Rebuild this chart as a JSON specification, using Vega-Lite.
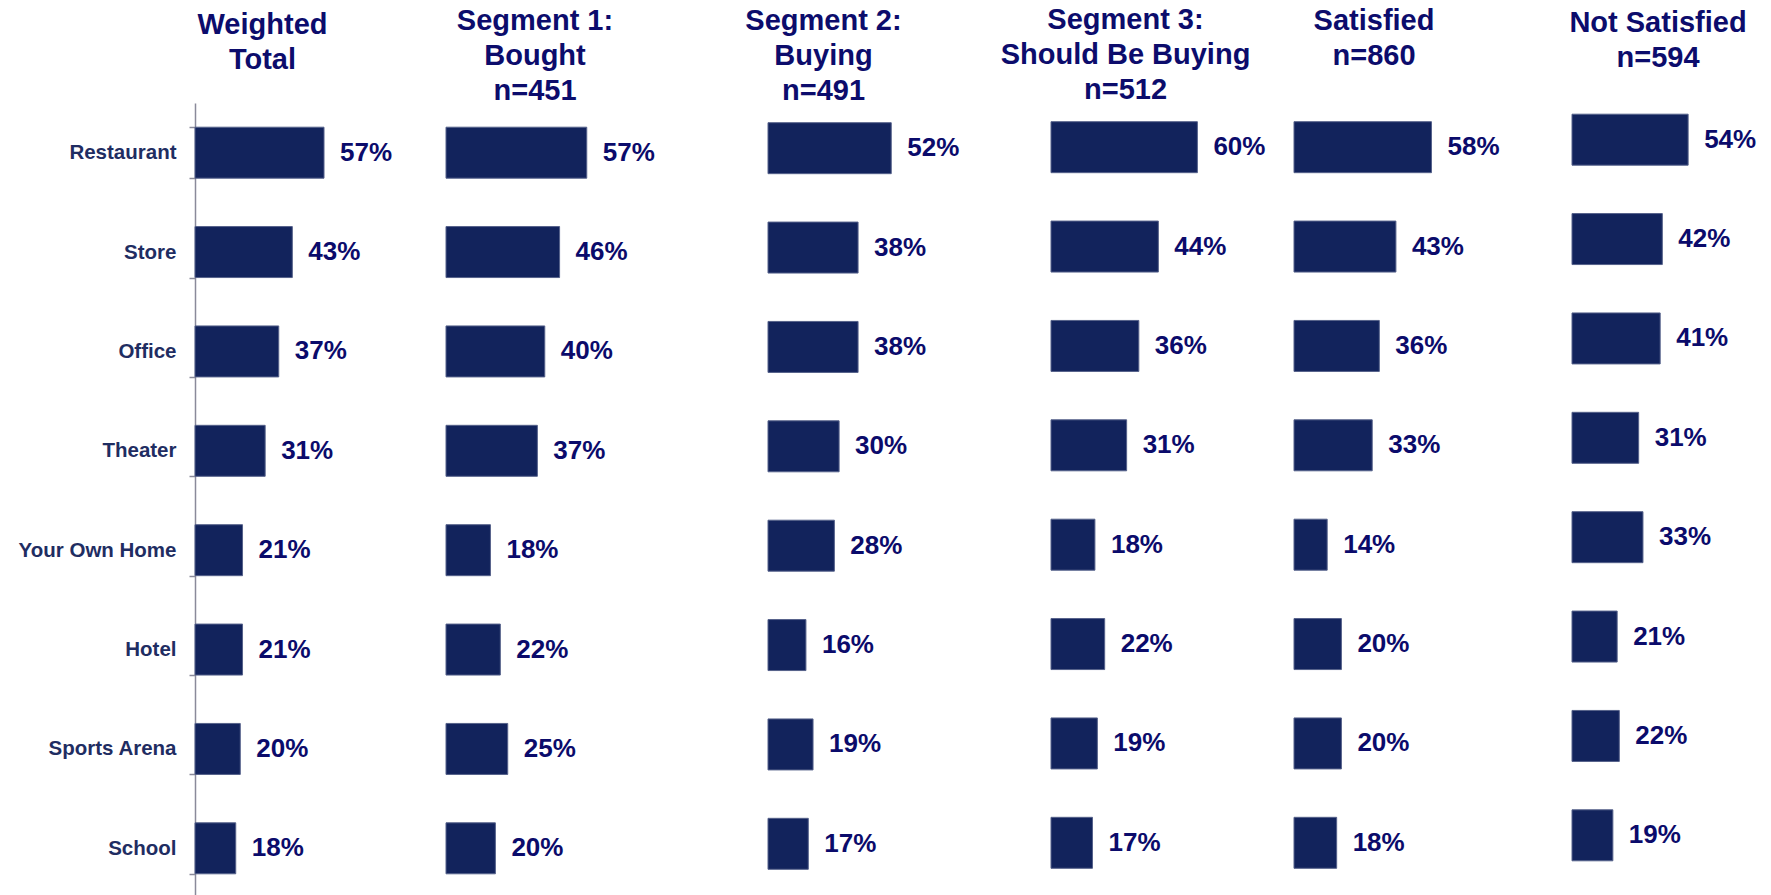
{
  "$schema": "https://vega.github.io/schema/vega-lite/v6.json",
  "padding": {"left": 18, "top": 6, "right": 0, "bottom": 0},
  "background": "white",
  "spacing": 0,
  "bounds": "flush",
  "config": {
    "view": {"stroke": null},
    "font": "Liberation Sans",
    "title": {"font": "Liberation Sans", "fontSize": 29, "fontWeight": "bold", "color": "#0C0C6C", "lineHeight": 35, "anchor": "middle", "frame": "group", "offset": -3}
  },
  "datasets": {
    "d": [
      {"segment": "W", "place": "Restaurant", "pct": 0.57},
      {"segment": "W", "place": "Store", "pct": 0.43},
      {"segment": "W", "place": "Office", "pct": 0.37},
      {"segment": "W", "place": "Theater", "pct": 0.31},
      {"segment": "W", "place": "Your Own Home", "pct": 0.21},
      {"segment": "W", "place": "Hotel", "pct": 0.21},
      {"segment": "W", "place": "Sports Arena", "pct": 0.20},
      {"segment": "W", "place": "School", "pct": 0.18},
      {"segment": "S1", "place": "Restaurant", "pct": 0.57},
      {"segment": "S1", "place": "Store", "pct": 0.46},
      {"segment": "S1", "place": "Office", "pct": 0.40},
      {"segment": "S1", "place": "Theater", "pct": 0.37},
      {"segment": "S1", "place": "Your Own Home", "pct": 0.18},
      {"segment": "S1", "place": "Hotel", "pct": 0.22},
      {"segment": "S1", "place": "Sports Arena", "pct": 0.25},
      {"segment": "S1", "place": "School", "pct": 0.20},
      {"segment": "S2", "place": "Restaurant", "pct": 0.52},
      {"segment": "S2", "place": "Store", "pct": 0.38},
      {"segment": "S2", "place": "Office", "pct": 0.38},
      {"segment": "S2", "place": "Theater", "pct": 0.30},
      {"segment": "S2", "place": "Your Own Home", "pct": 0.28},
      {"segment": "S2", "place": "Hotel", "pct": 0.16},
      {"segment": "S2", "place": "Sports Arena", "pct": 0.19},
      {"segment": "S2", "place": "School", "pct": 0.17},
      {"segment": "S3", "place": "Restaurant", "pct": 0.60},
      {"segment": "S3", "place": "Store", "pct": 0.44},
      {"segment": "S3", "place": "Office", "pct": 0.36},
      {"segment": "S3", "place": "Theater", "pct": 0.31},
      {"segment": "S3", "place": "Your Own Home", "pct": 0.18},
      {"segment": "S3", "place": "Hotel", "pct": 0.22},
      {"segment": "S3", "place": "Sports Arena", "pct": 0.19},
      {"segment": "S3", "place": "School", "pct": 0.17},
      {"segment": "SAT", "place": "Restaurant", "pct": 0.58},
      {"segment": "SAT", "place": "Store", "pct": 0.43},
      {"segment": "SAT", "place": "Office", "pct": 0.36},
      {"segment": "SAT", "place": "Theater", "pct": 0.33},
      {"segment": "SAT", "place": "Your Own Home", "pct": 0.14},
      {"segment": "SAT", "place": "Hotel", "pct": 0.20},
      {"segment": "SAT", "place": "Sports Arena", "pct": 0.20},
      {"segment": "SAT", "place": "School", "pct": 0.18},
      {"segment": "NS", "place": "Restaurant", "pct": 0.54},
      {"segment": "NS", "place": "Store", "pct": 0.42},
      {"segment": "NS", "place": "Office", "pct": 0.41},
      {"segment": "NS", "place": "Theater", "pct": 0.31},
      {"segment": "NS", "place": "Your Own Home", "pct": 0.33},
      {"segment": "NS", "place": "Hotel", "pct": 0.21},
      {"segment": "NS", "place": "Sports Arena", "pct": 0.22},
      {"segment": "NS", "place": "School", "pct": 0.19}
    ]
  },
  "data": {"name": "d"},
  "hconcat": [
    {
      "width": 251, "height": 795,
      "title": {"text": ["Weighted", "Total"], "dx": -58, "dy": -21},
      "transform": [{"filter": "datum.segment === 'W'"}],
      "encoding": {
        "y": {"field": "place", "type": "nominal", "scale": {"domain": ["Restaurant", "Store", "Office", "Theater", "Your Own Home", "Hotel", "Sports Arena", "School"], "paddingInner": 0.487, "paddingOuter": 0.2435},
          "axis": {"title": null, "domainColor": "#8A8A9A", "domainWidth": 1.5, "tickColor": "#8A8A9A", "tickSize": 6, "tickWidth": 1.5, "tickBand": "extent", "labelFontSize": 20.5, "labelFont": "Liberation Sans", "labelFontWeight": "bold", "labelColor": "#1F2D62", "labelPadding": 13}},
        "x": {"field": "pct", "type": "quantitative", "scale": {"domain": [0, 1.109], "nice": false}, "axis": null}
      },
      "layer": [
        {"mark": {"type": "bar", "color": "#12235C", "stroke": "#55618A", "strokeWidth": 1}},
        {"mark": {"type": "text", "dx": 16, "align": "left", "baseline": "middle", "fontSize": 26, "fontWeight": "bold", "color": "#0B0B6B"}, "encoding": {"text": {"field": "pct", "format": ".0%"}}}
      ]
    },
    {
      "width": 322, "height": 795,
      "title": {"text": ["Segment 1:", "Bought", "n=451"], "dx": -72, "dy": 0},
      "transform": [{"filter": "datum.segment === 'S1'"}],
      "encoding": {
        "y": {"field": "place", "type": "nominal", "scale": {"domain": ["Restaurant", "Store", "Office", "Theater", "Your Own Home", "Hotel", "Sports Arena", "School"], "paddingInner": 0.487, "paddingOuter": 0.2435}, "axis": null},
        "x": {"field": "pct", "type": "quantitative", "scale": {"domain": [0, 1.304], "nice": false}, "axis": null}
      },
      "layer": [
        {"mark": {"type": "bar", "color": "#12235C", "stroke": "#55618A", "strokeWidth": 1}},
        {"mark": {"type": "text", "dx": 16, "align": "left", "baseline": "middle", "fontSize": 26, "fontWeight": "bold", "color": "#0B0B6B"}, "encoding": {"text": {"field": "pct", "format": ".0%"}}}
      ]
    },
    {
      "width": 283, "height": 795,
      "title": {"text": ["Segment 2:", "Buying", "n=491"], "dx": -86, "dy": 0},
      "transform": [{"filter": "datum.segment === 'S2'"}],
      "encoding": {
        "y": {"field": "place", "type": "nominal", "scale": {"domain": ["Restaurant", "Store", "Office", "Theater", "Your Own Home", "Hotel", "Sports Arena", "School"], "paddingInner": 0.487, "paddingOuter": 0.2435}, "axis": null},
        "x": {"field": "pct", "type": "quantitative", "scale": {"domain": [0, 1.194], "nice": false}, "axis": null}
      },
      "layer": [
        {"mark": {"type": "bar", "color": "#12235C", "stroke": "#55618A", "strokeWidth": 1, "yOffset": -4.5}},
        {"mark": {"type": "text", "dx": 16, "align": "left", "baseline": "middle", "fontSize": 26, "fontWeight": "bold", "color": "#0B0B6B", "yOffset": -4.5}, "encoding": {"text": {"field": "pct", "format": ".0%"}}}
      ]
    },
    {
      "width": 243, "height": 795,
      "title": {"text": ["Segment 3:", "Should Be Buying", "n=512"], "dx": -47, "dy": -1},
      "transform": [{"filter": "datum.segment === 'S3'"}],
      "encoding": {
        "y": {"field": "place", "type": "nominal", "scale": {"domain": ["Restaurant", "Store", "Office", "Theater", "Your Own Home", "Hotel", "Sports Arena", "School"], "paddingInner": 0.487, "paddingOuter": 0.2435}, "axis": null},
        "x": {"field": "pct", "type": "quantitative", "scale": {"domain": [0, 0.996], "nice": false}, "axis": null}
      },
      "layer": [
        {"mark": {"type": "bar", "color": "#12235C", "stroke": "#55618A", "strokeWidth": 1, "yOffset": -5.5}},
        {"mark": {"type": "text", "dx": 16, "align": "left", "baseline": "middle", "fontSize": 26, "fontWeight": "bold", "color": "#0B0B6B", "yOffset": -5.5}, "encoding": {"text": {"field": "pct", "format": ".0%"}}}
      ]
    },
    {
      "width": 278, "height": 795,
      "title": {"text": ["Satisfied", "n=860"], "dx": -59, "dy": -35},
      "transform": [{"filter": "datum.segment === 'SAT'"}],
      "encoding": {
        "y": {"field": "place", "type": "nominal", "scale": {"domain": ["Restaurant", "Store", "Office", "Theater", "Your Own Home", "Hotel", "Sports Arena", "School"], "paddingInner": 0.487, "paddingOuter": 0.2435}, "axis": null},
        "x": {"field": "pct", "type": "quantitative", "scale": {"domain": [0, 1.173], "nice": false}, "axis": null}
      },
      "layer": [
        {"mark": {"type": "bar", "color": "#12235C", "stroke": "#55618A", "strokeWidth": 1, "yOffset": -5.5}},
        {"mark": {"type": "text", "dx": 16, "align": "left", "baseline": "middle", "fontSize": 26, "fontWeight": "bold", "color": "#0B0B6B", "yOffset": -5.5}, "encoding": {"text": {"field": "pct", "format": ".0%"}}}
      ]
    },
    {
      "width": 200, "height": 795,
      "title": {"text": ["Not Satisfied", "n=594"], "dx": -14, "dy": -33},
      "transform": [{"filter": "datum.segment === 'NS'"}],
      "encoding": {
        "y": {"field": "place", "type": "nominal", "scale": {"domain": ["Restaurant", "Store", "Office", "Theater", "Your Own Home", "Hotel", "Sports Arena", "School"], "paddingInner": 0.487, "paddingOuter": 0.2435}, "axis": null},
        "x": {"field": "pct", "type": "quantitative", "scale": {"domain": [0, 0.93], "nice": false}, "axis": null}
      },
      "layer": [
        {"mark": {"type": "bar", "color": "#12235C", "stroke": "#55618A", "strokeWidth": 1, "yOffset": -13}},
        {"mark": {"type": "text", "dx": 16, "align": "left", "baseline": "middle", "fontSize": 26, "fontWeight": "bold", "color": "#0B0B6B", "yOffset": -13}, "encoding": {"text": {"field": "pct", "format": ".0%"}}}
      ]
    }
  ]
}
